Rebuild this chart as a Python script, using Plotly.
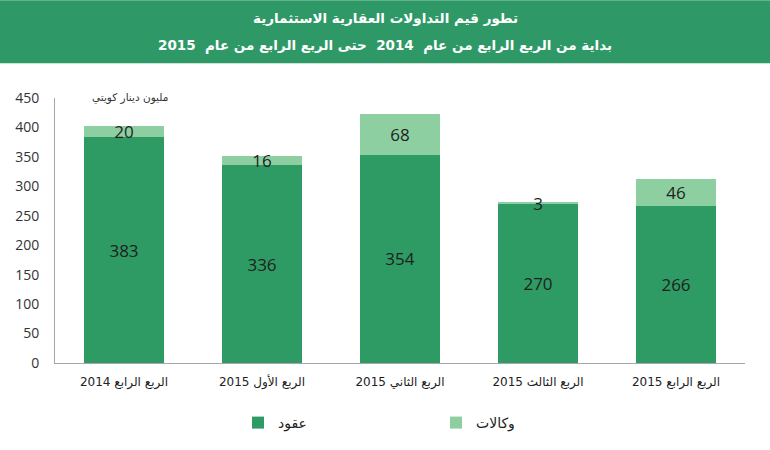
import plotly.graph_objects as go

categories = ["الربع الرابع 2014", "الربع الأول 2015", "الربع الثاني 2015", "الربع الثالث 2015", "الربع الرابع 2015"]
contracts = [383, 336, 354, 270, 266]   # عقود
agencies = [20, 16, 68, 3, 46]          # وكالات
y_ticks = [0, 50, 100, 150, 200, 250, 300, 350, 400, 450]

dark = "#2E9A64"
light = "#8DCFA1"
font_num = "Open Sans, DejaVu Sans, sans-serif"

fig = go.Figure()
fig.add_trace(go.Bar(
    x=categories, y=contracts, name="عقود", marker_color=dark, marker_line_width=0,
    text=[str(v) for v in contracts], textposition="inside", textangle=0,
    insidetextanchor="middle", constraintext="none",
    textfont=dict(size=17, color="#1f1f1f", family=font_num),
))
fig.add_trace(go.Bar(
    x=categories, y=agencies, name="وكالات", marker_color=light, marker_line_width=0,
    text=[str(v) for v in agencies], textposition="inside", textangle=0,
    insidetextanchor="middle", constraintext="none",
    textfont=dict(size=17, color="#1f1f1f", family=font_num),
))

W, H = 770, 450
ml, mr, mt, mb = 55, 25, 98, 86
pw, ph = W - ml - mr, H - mt - mb

def py(pix):
    return (H - mb - pix) / ph

def px(pix):
    return (pix - ml) / pw

fig.add_shape(type="rect", xref="paper", yref="paper",
              x0=px(0), x1=px(W), y0=py(63), y1=py(0),
              fillcolor="#2E9966", line_width=0, layer="below")

fig.add_annotation(xref="paper", yref="paper", x=px(385), y=py(18),
                   text="<b>تطور قيم التداولات العقارية الاستثمارية</b>",
                   showarrow=False, font=dict(size=13.5, color="white", family="DejaVu Sans, sans-serif"),
                   xanchor="center", yanchor="middle")
fig.add_annotation(xref="paper", yref="paper", x=px(385), y=py(45),
                   text="<b>بداية من الربع الرابع من عام  2014  حتى الربع الرابع من عام  2015</b>",
                   showarrow=False, font=dict(size=13.5, color="white", family="DejaVu Sans, sans-serif"),
                   xanchor="center", yanchor="middle")
fig.add_annotation(xref="paper", yref="paper", x=px(130), y=py(97),
                   text="مليون دينار كويتي", showarrow=False,
                   font=dict(size=10.5, color="#333333", family="DejaVu Sans, sans-serif"),
                   xanchor="center", yanchor="middle")

fig.update_layout(
    width=W, height=H,
    margin=dict(l=ml, r=mr, t=mt, b=mb),
    barmode="stack", bargap=0.42,
    plot_bgcolor="white", paper_bgcolor="white",
    showlegend=True,
    legend=dict(orientation="h", x=px(238), y=py(423), xanchor="left", yanchor="middle",
                entrywidth=153, entrywidthmode="pixels", traceorder="normal",
                font=dict(size=14, color="#222222", family="DejaVu Sans, sans-serif")),
    xaxis=dict(showline=True, linecolor="#a6a6a6", linewidth=1, ticks="",
               ticklabelstandoff=8,
               tickfont=dict(size=12, color="#222222", family="DejaVu Sans, sans-serif")),
    yaxis=dict(range=[0, 450], tickvals=y_ticks, showgrid=False, zeroline=False,
               showline=True, linecolor="#a6a6a6", linewidth=1, ticks="",
               ticklabelstandoff=12,
               tickfont=dict(size=14, color="#333333", family=font_num)),
)

fig.write_html("out.html")
